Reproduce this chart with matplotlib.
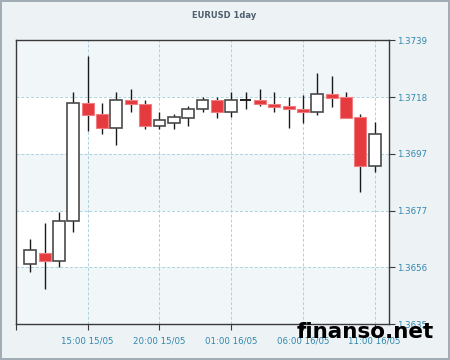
import matplotlib
matplotlib.use("Agg")
import matplotlib.pyplot as plt
import numpy as np

# ---- data ----
title = "EURUSD 1day"
opens  = [1.36569, 1.36611, 1.36580, 1.36729, 1.37159, 1.37119, 1.37067, 1.37171, 1.37158,
          1.37077, 1.37087, 1.37106, 1.37137, 1.37171, 1.37126, 1.37170, 1.37171, 1.37158,
          1.37148, 1.37138, 1.37127, 1.37192, 1.37181, 1.37109, 1.36928]
highs  = [1.36661, 1.36721, 1.36760, 1.37202, 1.37332, 1.37159, 1.37202, 1.37210, 1.37171,
          1.37128, 1.37119, 1.37149, 1.37181, 1.37181, 1.37202, 1.37202, 1.37210, 1.37202,
          1.37181, 1.37191, 1.37271, 1.37260, 1.37202, 1.37119, 1.37089]
lows   = [1.36540, 1.36477, 1.36559, 1.36687, 1.37059, 1.37048, 1.37007, 1.37127, 1.37065,
          1.37065, 1.37066, 1.37077, 1.37126, 1.37106, 1.37108, 1.37137, 1.37148, 1.37128,
          1.37067, 1.37088, 1.37116, 1.37147, 1.37106, 1.36835, 1.36908]
closes = [1.36620, 1.36580, 1.36729, 1.37159, 1.37117, 1.37067, 1.37171, 1.37158, 1.37077,
          1.37099, 1.37108, 1.37138, 1.37171, 1.37126, 1.37171, 1.37170, 1.37158, 1.37147,
          1.37137, 1.37127, 1.37192, 1.37180, 1.37106, 1.36928, 1.37048]
xtick_pos = [4, 9, 14, 19, 24]
xtick_labels = ["15:00 15/05", "20:00 15/05", "01:00 16/05", "06:00 16/05", "11:00 16/05"]
ytick_vals = [1.3635, 1.36558, 1.36766, 1.36974, 1.37182, 1.3739]
ytick_labels = ["1.3635", "1.3656", "1.3677", "1.3697", "1.3718", "1.3739"]

opens = np.array(opens); closes = np.array(closes)
highs = np.array(highs); lows = np.array(lows)
x = np.arange(len(opens))

fig = plt.figure(figsize=(4.5, 3.6), dpi=100)
fig.patch.set_facecolor("#edf2f5")
fig.patch.set_edgecolor("#a3adb5")
fig.patch.set_linewidth(1.5)

ax = fig.add_axes([16/450, 1-324/360, (389-16)/450, (324-40.3)/360])
ax.set_facecolor("white")
ax.set_xlim(-1.0, 25.0)
ax.set_ylim(ytick_vals[0], ytick_vals[-1])

# alternating bands
for i in range(len(ytick_vals) - 1):
    if i % 2 == 0:
        ax.axhspan(ytick_vals[i], ytick_vals[i+1], color="#f1f6f8", zorder=0, lw=0)

ax.grid(True, color="#a9d3de", linestyle=(0, (3, 2)), linewidth=0.7, zorder=1)

up = closes >= opens
bull_col = "white"
bear_col = "#e53b3f"

ax.vlines(x, lows, highs, color="#1a1a1a", linewidth=1.0, zorder=2)
w = 0.83
bottoms = np.minimum(opens, closes)
heights = np.abs(closes - opens)
ax.bar(x[up], heights[up], bottom=bottoms[up], width=w, color=bull_col,
       edgecolor="#4a4a4a", linewidth=1.2, zorder=3)
ax.bar(x[~up], heights[~up], bottom=bottoms[~up], width=w, color=bear_col,
       edgecolor="#f07d80", linewidth=0.8, zorder=3)
# doji
doji = heights < 2e-6
ax.hlines(opens[doji], x[doji] - w/2, x[doji] + w/2, color="#1a1a1a", linewidth=1.2, zorder=4)

for s in ax.spines.values():
    s.set_color("#3a3a3a")
    s.set_linewidth(1.0)

ax.yaxis.tick_right()
ax.set_yticks(ytick_vals)
ax.set_yticklabels(ytick_labels)
ax.set_xticks(xtick_pos)
ax.set_xticklabels(xtick_labels)
ax.set_xticks([-1.0], minor=True)
ax.tick_params(axis="both", which="both", direction="out", length=4, width=0.8,
               color="#3a3a3a", labelsize=6.2, labelcolor="#2f86ad", pad=2)
ax.tick_params(axis="x", pad=5)

fig.text(0.499, 1-16/360, title, ha="center", va="center", fontsize=6.0,
         fontweight="bold", color="#4f5f6e")

fig.text(365/450, 1-332/360, "finanso.net", ha="center", va="center", fontsize=15.5,
         fontweight="bold", color="black")

fig.savefig("out.png", dpi=100, facecolor=fig.get_facecolor(), edgecolor=fig.get_edgecolor())
